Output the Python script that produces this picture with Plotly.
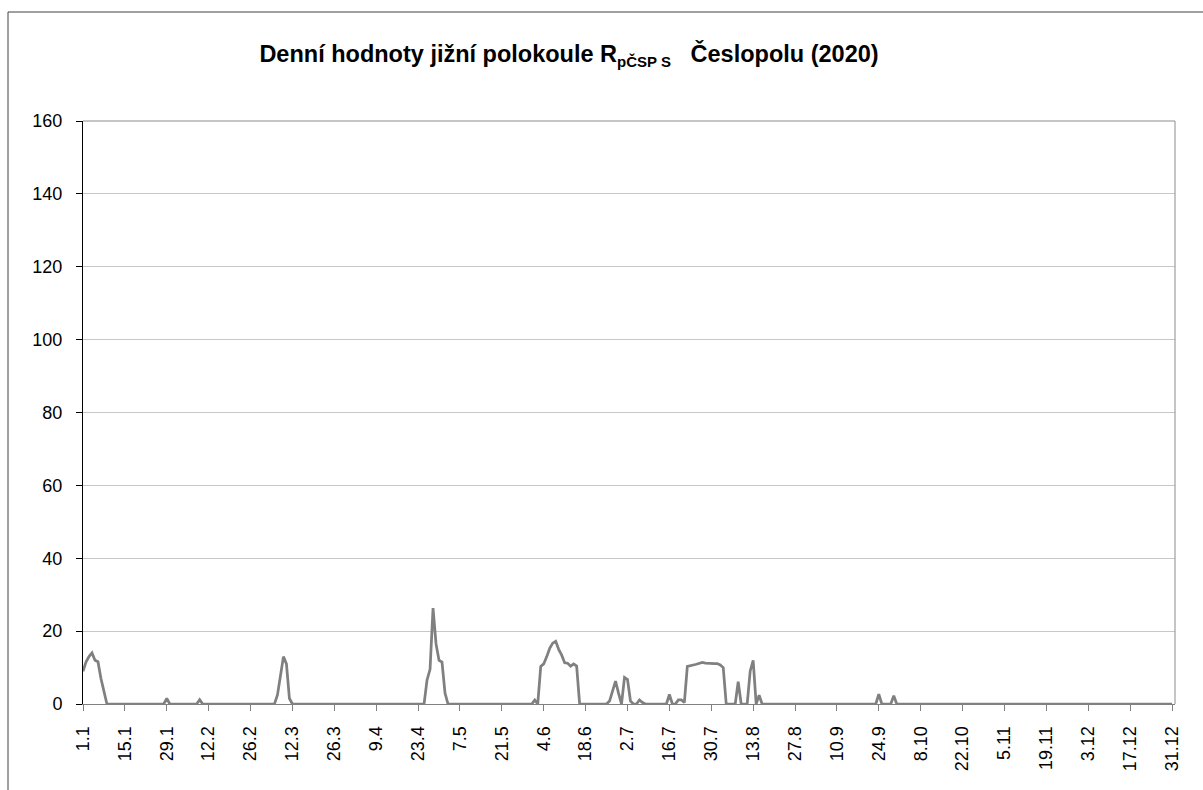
import plotly.graph_objects as go

# ---- data: daily values, year drawn as 365 days (labels follow a 365-day calendar) ----
jan = [9, 11.5, 13, 14, 12, 11.6, 7, 3.5, 0, 0,
       0, 0, 0, 0, 0, 0, 0, 0, 0, 0,
       0, 0, 0, 0, 0, 0, 0, 0, 1.5, 0,
       0]
feb = [0, 0, 0, 0, 0, 0, 0, 0, 1.2, 0,
       0, 0, 0, 0, 0, 0, 0, 0, 0, 0,
       0, 0, 0, 0, 0, 0, 0, 0]
mar = [0, 0, 0, 0, 0, 0, 2.5, 7.5, 13, 11,
       1.5, 0, 0, 0, 0, 0, 0, 0, 0, 0,
       0, 0, 0, 0, 0, 0, 0, 0, 0, 0,
       0]
apr = [0, 0, 0, 0, 0, 0, 0, 0, 0, 0,
       0, 0, 0, 0, 0, 0, 0, 0, 0, 0,
       0, 0, 0, 0, 0, 6.6, 9.5, 26.3, 16.5, 12]
may = [11.5, 3, 0, 0, 0, 0, 0, 0, 0, 0,
       0, 0, 0, 0, 0, 0, 0, 0, 0, 0,
       0, 0, 0, 0, 0, 0, 0, 0, 0, 0,
       0]
jun = [1.1, 0, 10.3, 11, 13, 15.3, 16.7, 17.2, 15, 13.4,
       11.3, 11.2, 10.4, 11, 10.4, 0, 0, 0, 0, 0,
       0, 0, 0, 0, 0, 0.8, 3.5, 6.3, 3, 0]
jul = [7.3, 6.7, 0.8, 0, 0, 1.1, 0.4, 0, 0, 0,
       0, 0, 0, 0, 0, 2.6, 0, 0, 1.1, 1.1,
       0.4, 10.3, 10.6, 10.7, 10.9, 11.2, 11.4, 11.2, 11.1, 11,
       11.1]
aug = [11.1, 10.7, 10, 0, 0, 0, 0, 6.1, 0, 0,
       0, 9, 12, 0, 2.4, 0, 0, 0, 0, 0,
       0, 0, 0, 0, 0, 0, 0, 0, 0, 0,
       0]
sep = [0, 0, 0, 0, 0, 0, 0, 0, 0, 0,
       0, 0, 0, 0, 0, 0, 0, 0, 0, 0,
       0, 0, 0, 2.7, 0, 0, 0, 0, 2.3, 0]
oct_ = [0, 0, 0, 0, 0, 0, 0, 0, 0, 0,
        0, 0, 0, 0, 0, 0, 0, 0, 0, 0,
        0, 0, 0, 0, 0, 0, 0, 0, 0, 0,
        0]
nov = [0, 0, 0, 0, 0, 0, 0, 0, 0, 0,
       0, 0, 0, 0, 0, 0, 0, 0, 0, 0,
       0, 0, 0, 0, 0, 0, 0, 0, 0, 0]
dec = [0, 0, 0, 0, 0, 0, 0, 0, 0, 0,
       0, 0, 0, 0, 0, 0, 0, 0, 0, 0,
       0, 0, 0, 0, 0, 0, 0, 0, 0, 0,
       0]

tick_labels = ["1.1", "15.1", "29.1", "12.2", "26.2", "12.3", "26.3", "9.4", "23.4",
               "7.5", "21.5", "4.6", "18.6", "2.7", "16.7", "30.7", "13.8", "27.8",
               "10.9", "24.9", "8.10", "22.10", "5.11", "19.11", "3.12", "17.12", "31.12"]

values = jan + feb + mar + apr + may + jun + jul + aug + sep + oct_ + nov + dec
days = list(range(len(values)))
tick_step = 14
tick_days = [i * tick_step for i in range(len(tick_labels))]

FONT = "Liberation Sans, Arial, sans-serif"

fig = go.Figure()
fig.add_trace(go.Scatter(
    x=days, y=values, mode="lines",
    line=dict(color="#808080", width=2.75),
    hoverinfo="skip", showlegend=False,
))

# plot-area border (top and right) and outer chart frame (left and top)
PL, PR, PT, PB = 83, 1175, 121, 704
W, H = 1203, 790
def px_x(x):
    return (x - PL) / (PR - PL)
def px_y(y):
    return (PB - y) / (PB - PT)

shapes = [
    dict(type="line", xref="paper", yref="paper", x0=0, x1=1, y0=1, y1=1,
         line=dict(color="#8c8c8c", width=1)),
    dict(type="line", xref="paper", yref="paper", x0=1, x1=1, y0=0, y1=1,
         line=dict(color="#8c8c8c", width=1)),
    dict(type="line", xref="paper", yref="paper", x0=px_x(8), x1=px_x(8),
         y0=px_y(12), y1=px_y(800), line=dict(color="#404040", width=1)),
    dict(type="line", xref="paper", yref="paper", x0=px_x(8), x1=px_x(1210),
         y0=px_y(12), y1=px_y(12), line=dict(color="#404040", width=1)),
]

title_text = ("Denní hodnoty jižní polokoule R"
              "<sub><span style=\"font-size:15px\">pČSP S</span></sub>"
              "\u00a0\u00a0\u00a0Česlopolu (2020)")

fig.update_layout(
    width=W, height=H,
    margin=dict(l=PL, r=W - PR, t=PT, b=H - PB, pad=0),
    paper_bgcolor="white", plot_bgcolor="white",
    font=dict(family=FONT, color="black"),
    title=dict(
        text=title_text,
        x=569 / W, y=1 - 54 / H, xanchor="center", yanchor="middle",
        font=dict(family=FONT, size=23.5, color="black", weight="bold"),
    ),
    shapes=shapes,
    xaxis=dict(
        range=[0, 365], tickmode="array", tickvals=tick_days, ticktext=tick_labels,
        tickangle=-90, ticks="outside", ticklen=6, tickcolor="#808080", tickwidth=1,
        showline=True, linecolor="#808080", linewidth=1,
        showgrid=False, zeroline=False,
        tickfont=dict(family=FONT, size=18, color="black"),
        ticklabelstandoff=8,
    ),
    yaxis=dict(
        range=[0, 160], dtick=20, tick0=0, ticks="outside", ticklen=6,
        tickcolor="black", tickwidth=1, showline=True, linecolor="black", linewidth=1,
        showgrid=True, gridcolor="#c8c8c8", gridwidth=1, zeroline=False,
        tickfont=dict(family=FONT, size=18, color="black"),
        ticklabelstandoff=10,
    ),
)

fig.write_html("out.html", config={"displayModeBar": False},
               post_script="document.body.style.margin='0';")
